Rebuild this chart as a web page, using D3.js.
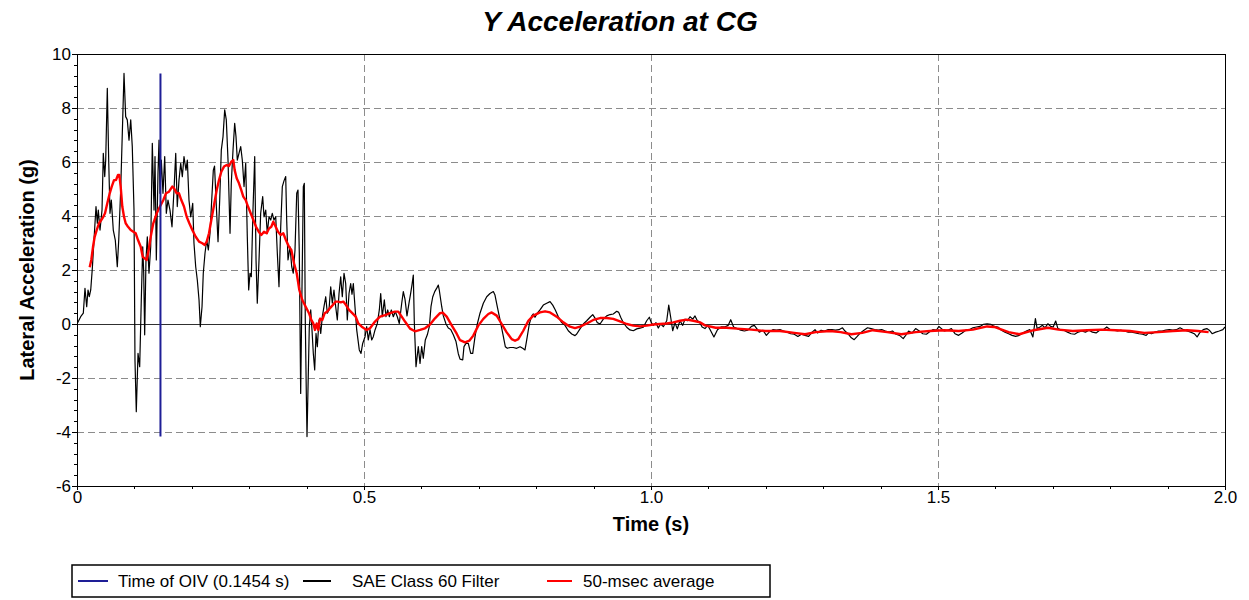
<!DOCTYPE html>
<html>
<head>
<meta charset="utf-8">
<script src="https://cdn.jsdelivr.net/npm/d3@7/dist/d3.min.js"></script>
<style>
  html, body { margin: 0; padding: 0; background: #ffffff; }
  svg { display: block; font-family: "Liberation Sans", Arial, sans-serif; }
</style>
</head>
<body>
<svg id="chart" width="1249" height="600"></svg>
<script>
// ---- Data ---------------------------------------------------------------
const chartTitle = "Y Acceleration at CG";
const xLabel = "Time (s)";
const yLabel = "Lateral Acceleration (g)";

const xTickValues = [0, 0.5, 1.0, 1.5, 2.0];
const xTickLabels = ["0", "0.5", "1.0", "1.5", "2.0"];
const yTickValues = [-6, -4, -2, 0, 2, 4, 6, 8, 10];
const yTickLabels = ["-6", "-4", "-2", "0", "2", "4", "6", "8", "10"];

const seriesNames = ["Time of OIV (0.1454 s)", "SAE Class 60 Filter", "50-msec average"];
const oivTime = 0.1454;

// SAE Class 60 filtered lateral acceleration: time (s), acceleration (g)
const sae60Time = [
  0, 0.0064, 0.0110, 0.0139, 0.0169, 0.0192, 0.0214, 0.0239, 0.0267, 0.0296,
  0.0331, 0.0354, 0.0371, 0.0401, 0.0436, 0.0458, 0.0483, 0.0500, 0.0528, 0.0552,
  0.0575, 0.0598, 0.0632, 0.0667, 0.0702, 0.0727, 0.0761, 0.0796, 0.0819, 0.0848,
  0.0876, 0.0906, 0.0936, 0.0963, 0.0993, 0.1010, 0.1033, 0.1063, 0.1092, 0.1120,
  0.1145, 0.1162, 0.1179, 0.1202, 0.1225, 0.1254, 0.1284, 0.1312, 0.1342, 0.1359,
  0.1382, 0.1411, 0.1429, 0.1446, 0.1469, 0.1498, 0.1528, 0.1556, 0.1585, 0.1620,
  0.1655, 0.1690, 0.1720, 0.1747, 0.1777, 0.1807, 0.1835, 0.1864, 0.1899, 0.1922,
  0.1951, 0.1981, 0.2016, 0.2038, 0.2068, 0.2096, 0.2126, 0.2148, 0.2178, 0.2200,
  0.2230, 0.2260, 0.2288, 0.2317, 0.2347, 0.2375, 0.2396, 0.2425, 0.2457, 0.2486,
  0.2514, 0.2544, 0.2573, 0.2601, 0.2631, 0.2666, 0.2688, 0.2718, 0.2747, 0.2770,
  0.2793, 0.2822, 0.2852, 0.2880, 0.2910, 0.2939, 0.2967, 0.2991, 0.3014, 0.3037,
  0.3066, 0.3096, 0.3119, 0.3141, 0.3171, 0.3200, 0.3235, 0.3258, 0.3288, 0.3315,
  0.3345, 0.3375, 0.3402, 0.3432, 0.3462, 0.3490, 0.3519, 0.3549, 0.3577, 0.3606,
  0.3636, 0.3653, 0.3676, 0.3711, 0.3741, 0.3768, 0.3798, 0.3828, 0.3850, 0.3873,
  0.3897, 0.3920, 0.3943, 0.3960, 0.3977, 0.3995, 0.4007, 0.4025, 0.4047, 0.4072,
  0.4094, 0.4117, 0.4141, 0.4164, 0.4187, 0.4216, 0.4246, 0.4274, 0.4303, 0.4333,
  0.4361, 0.4390, 0.4420, 0.4448, 0.4477, 0.4507, 0.4535, 0.4565, 0.4594, 0.4622,
  0.4652, 0.4681, 0.4709, 0.4739, 0.4768, 0.4791, 0.4814, 0.4843, 0.4873, 0.4918,
  0.4948, 0.4977, 0.5018, 0.5047, 0.5075, 0.5105, 0.5134, 0.5162, 0.5192, 0.5232,
  0.5267, 0.5291, 0.5319, 0.5354, 0.5383, 0.5413, 0.5441, 0.5476, 0.5511, 0.5545,
  0.5580, 0.5615, 0.5657, 0.5685, 0.5714, 0.5749, 0.5784, 0.5810, 0.5836, 0.5859,
  0.5876, 0.5906, 0.5946, 0.5976, 0.6005, 0.6033, 0.6068, 0.6103, 0.6138, 0.6167,
  0.6197, 0.6232, 0.6267, 0.6295, 0.6312, 0.6354, 0.6382, 0.6429, 0.6469, 0.6511,
  0.6556, 0.6603, 0.6643, 0.6673, 0.6720, 0.6742, 0.6777, 0.6817, 0.6859, 0.6894,
  0.6934, 0.6974, 0.7021, 0.7079, 0.7138, 0.7195, 0.7253, 0.7282, 0.7322, 0.7370,
  0.7417, 0.7462, 0.7497, 0.7544, 0.7601, 0.7660, 0.7718, 0.7765, 0.7805, 0.7835,
  0.7880, 0.7922, 0.7950, 0.7979, 0.8019, 0.8066, 0.8124, 0.8183, 0.8241, 0.8288,
  0.8333, 0.8385, 0.8444, 0.8502, 0.8559, 0.8619, 0.8676, 0.8706, 0.8763, 0.8821,
  0.8880, 0.8938, 0.8985, 0.9025, 0.9065, 0.9112, 0.9169, 0.9228, 0.9286, 0.9343,
  0.9403, 0.9438, 0.9472, 0.9518, 0.9577, 0.9634, 0.9692, 0.9751, 0.9809, 0.9866,
  0.9925, 0.9971, 1.0005, 1.0040, 1.0087, 1.0127, 1.0169, 1.0215, 1.0274, 1.0309,
  1.0343, 1.0378, 1.0418, 1.0458, 1.0505, 1.0552, 1.0593, 1.0633, 1.0680, 1.0727,
  1.0767, 1.0807, 1.0847, 1.0890, 1.0940, 1.0990, 1.1035, 1.1096, 1.1158, 1.1221,
  1.1283, 1.1345, 1.1389, 1.1439, 1.1500, 1.1563, 1.1625, 1.1688, 1.1750, 1.1800,
  1.1843, 1.1887, 1.1950, 1.2010, 1.2060, 1.2123, 1.2185, 1.2247, 1.2310, 1.2371,
  1.2434, 1.2496, 1.2559, 1.2620, 1.2683, 1.2746, 1.2807, 1.2857, 1.2900, 1.2963,
  1.3024, 1.3087, 1.3150, 1.3213, 1.3274, 1.3336, 1.3380, 1.3430, 1.3490, 1.3540,
  1.3585, 1.3648, 1.3710, 1.3772, 1.3834, 1.3896, 1.3958, 1.4020, 1.4083, 1.4145,
  1.4207, 1.4270, 1.4330, 1.4394, 1.4437, 1.4488, 1.4550, 1.4610, 1.4674, 1.4736,
  1.4798, 1.4848, 1.4910, 1.4972, 1.5016, 1.5060, 1.5110, 1.5172, 1.5233, 1.5296,
  1.5359, 1.5420, 1.5483, 1.5545, 1.5608, 1.5669, 1.5732, 1.5794, 1.5856, 1.5918,
  1.5980, 1.6043, 1.6105, 1.6167, 1.6230, 1.6290, 1.6354, 1.6416, 1.6479, 1.6540,
  1.6600, 1.6653, 1.6697, 1.6727, 1.6777, 1.6820, 1.6864, 1.6914, 1.6963, 1.7007,
  1.7050, 1.7089, 1.7132, 1.7194, 1.7256, 1.7319, 1.7380, 1.7443, 1.7505, 1.7568,
  1.7630, 1.7690, 1.7754, 1.7816, 1.7878, 1.7940, 1.8003, 1.8065, 1.8127, 1.8190,
  1.8250, 1.8314, 1.8376, 1.8438, 1.8500, 1.8563, 1.8626, 1.8669, 1.8720, 1.8780,
  1.8843, 1.8905, 1.8967, 1.9030, 1.9092, 1.9153, 1.9216, 1.9279, 1.9340, 1.9402,
  1.9465, 1.9514, 1.9558, 1.9620, 1.9683, 1.9726, 1.9776, 1.9838, 1.9900, 1.9963,
  2.0000
];
const sae60Accel = [
  0, 0.27, 0.40, 1.32, 0.64, 1.26, 1.01, 1.26, 2.06, 3.11,
  4.35, 3.73, 4.22, 3.48, 4.22, 6.32, 5.46, 6.07, 8.73, 6.07,
  4.10, 4.59, 3.48, 3.11, 2.12, 3.11, 4.96, 7.56, 9.28, 7.68,
  7.56, 6.81, 7.56, 6.57, 4.22, -1.33, -3.25, -1.09, -1.58, 0.89,
  2.86, 1.90, -0.40, 2.40, 3.23, 1.88, 2.86, 6.69, 4.22, 6.20,
  2.37, 5.58, 6.81, 4.84, 6.07, 4.84, 6.20, 4.10, 4.59, 4.22,
  3.60, 4.96, 6.32, 4.35, 5.33, 5.95, 5.46, 6.20, 5.70, 6.07,
  4.59, 3.97, 4.47, 2.99, 2.12, 1.63, 0.89, -0.10, 0.64, 1.88,
  2.62, 3.11, 2.74, 3.36, 4.59, 5.70, 5.85, 4.47, 3.05, 4.59,
  6.44, 6.94, 7.93, 7.56, 6.07, 3.36, 5.21, 6.44, 7.43, 6.94,
  6.07, 6.32, 6.57, 6.07, 5.09, 5.95, 3.23, 1.26, 1.88, 1.75,
  4.22, 6.20, 2.37, 0.77, 2.37, 4.10, 4.72, 3.97, 4.22, 3.36,
  3.97, 3.85, 4.10, 3.85, 3.97, 2.62, 1.38, 3.60, 5.09, 5.30,
  5.46, 3.85, 2.37, 2.86, 2.12, 1.88, 2.74, 4.84, 4.96, 2.62,
  -2.57, 1.38, 5.09, 5.21, 0.15, -2.57, -4.17, -2.32, -0.10, 0.52,
  -0.22, -1.09, -1.70, -0.35, -0.84, 0.15, -0.35, 0.27, 0.64, 1.01,
  0.40, 0.52, 1.38, 0.77, 1.26, 0.64, 0.15, 1.13, 1.75, 1.01,
  1.88, 1.50, 0.15, 1.13, 1.50, 1.10, 1.50, 0.64, -0.22, -0.96,
  -1.09, -0.72, -0.47, -0.10, -0.59, -0.22, -0.59, -0.47, -0.22, 0.02,
  0.52, 1.13, 0.27, 0.89, 0.27, 0.52, 0.27, 0.52, 0.27, 0.46,
  0.27, 0.02, 0.77, 1.20, 0.92, 0.30, 0.77, 1.10, 1.45, 1.81,
  0.10, -1.58, -0.84, -1.46, -0.84, -1.27, -0.59, -0.40, -0.10, 0.64,
  1.00, 1.20, 1.33, 1.44, 1.25, 0.64, 0.30, 0.00, -0.15, -0.20,
  -0.40, -0.65, -1.10, -1.30, -1.33, -0.84, -0.72, -0.72, -1.09, -1.09,
  -0.47, 0.00, 0.40, 0.77, 1.01, 1.13, 1.20, 1.07, 0.64, 0.15,
  -0.35, -0.84, -0.90, -0.87, -0.87, -0.90, -0.84, -0.90, -0.96, -0.59,
  0.00, 0.30, 0.37, 0.25, 0.40, 0.52, 0.70, 0.77, 0.83, 0.70,
  0.52, 0.27, 0.05, -0.05, -0.25, -0.37, -0.43, -0.37, -0.18, 0.00,
  0.12, 0.25, 0.35, 0.22, 0.05, 0.00, 0.18, 0.30, 0.35, 0.37,
  0.47, 0.43, 0.25, 0.05, -0.12, -0.22, -0.25, -0.18, -0.15, -0.12,
  0.12, 0.25, 0.05, -0.05, 0.05, -0.15, 0.00, -0.10, 0.12, 0.70,
  0.25, -0.25, 0.05, -0.18, 0.12, -0.05, 0.18, 0.12, 0.27, 0.18,
  0.30, 0.12, 0.07, -0.11, -0.17, -0.05, -0.23, -0.48, -0.21, -0.11,
  -0.11, -0.05, 0.16, -0.11, -0.17, -0.23, -0.26, -0.23, -0.09, -0.05,
  -0.17, -0.30, -0.23, -0.42, -0.30, -0.21, -0.23, -0.21, -0.26, -0.30,
  -0.36, -0.38, -0.46, -0.38, -0.42, -0.46, -0.30, -0.21, -0.33, -0.23,
  -0.26, -0.21, -0.21, -0.23, -0.21, -0.14, -0.26, -0.36, -0.51, -0.58,
  -0.48, -0.33, -0.23, -0.14, -0.17, -0.21, -0.23, -0.21, -0.26, -0.30,
  -0.26, -0.38, -0.42, -0.54, -0.42, -0.26, -0.33, -0.17, -0.26, -0.36,
  -0.38, -0.30, -0.21, -0.23, -0.09, -0.17, -0.26, -0.23, -0.17, -0.36,
  -0.42, -0.33, -0.23, -0.21, -0.14, -0.11, -0.09, -0.01, 0.01, -0.01,
  -0.09, -0.11, -0.23, -0.30, -0.36, -0.42, -0.46, -0.42, -0.33, -0.26,
  -0.21, -0.48, 0.20, -0.17, -0.11, -0.05, -0.14, 0.01, -0.09, -0.11,
  0.11, -0.17, -0.21, -0.23, -0.30, -0.36, -0.38, -0.30, -0.26, -0.30,
  -0.23, -0.30, -0.33, -0.23, -0.21, -0.11, -0.21, -0.23, -0.26, -0.23,
  -0.26, -0.30, -0.30, -0.33, -0.36, -0.38, -0.42, -0.33, -0.36, -0.30,
  -0.26, -0.26, -0.23, -0.21, -0.23, -0.21, -0.14, -0.21, -0.26, -0.30,
  -0.36, -0.48, -0.33, -0.21, -0.17, -0.23, -0.36, -0.30, -0.26, -0.21,
  -0.11
];

// 50-msec moving average: time (s), acceleration (g)
const avgTime = [
  0.0221, 0.0249, 0.0279, 0.0308, 0.0343, 0.0383, 0.0423, 0.0458, 0.0488, 0.0528,
  0.0570, 0.0605, 0.0645, 0.0679, 0.0714, 0.0737, 0.0761, 0.0789, 0.0819, 0.0848,
  0.0889, 0.0936, 0.0981, 0.1023, 0.1063, 0.1110, 0.1145, 0.1179, 0.1214, 0.1249,
  0.1284, 0.1329, 0.1389, 0.1446, 0.1504, 0.1551, 0.1603, 0.1660, 0.1690, 0.1737,
  0.1777, 0.1817, 0.1864, 0.1911, 0.1957, 0.2009, 0.2068, 0.2126, 0.2183, 0.2225,
  0.2260, 0.2300, 0.2340, 0.2387, 0.2434, 0.2474, 0.2514, 0.2561, 0.2608, 0.2648,
  0.2688, 0.2723, 0.2747, 0.2782, 0.2822, 0.2862, 0.2897, 0.2939, 0.2979, 0.3026,
  0.3072, 0.3119, 0.3166, 0.3211, 0.3258, 0.3305, 0.3345, 0.3385, 0.3420, 0.3462,
  0.3502, 0.3549, 0.3594, 0.3641, 0.3693, 0.3734, 0.3781, 0.3828, 0.3873, 0.3925,
  0.3984, 0.4042, 0.4082, 0.4117, 0.4146, 0.4176, 0.4204, 0.4234, 0.4274, 0.4315,
  0.4361, 0.4408, 0.4455, 0.4507, 0.4547, 0.4594, 0.4640, 0.4687, 0.4739, 0.4796,
  0.4856, 0.4901, 0.4960, 0.5047, 0.5105, 0.5192, 0.5279, 0.5366, 0.5453, 0.5540,
  0.5598, 0.5657, 0.5714, 0.5802, 0.5889, 0.5976, 0.6063, 0.6150, 0.6237, 0.6324,
  0.6371, 0.6441, 0.6528, 0.6615, 0.6673, 0.6760, 0.6835, 0.6904, 0.6991, 0.7079,
  0.7166, 0.7225, 0.7312, 0.7399, 0.7486, 0.7573, 0.7631, 0.7688, 0.7775, 0.7863,
  0.7950, 0.8066, 0.8154, 0.8241, 0.8357, 0.8472, 0.8589, 0.8676, 0.8763, 0.8880,
  0.8995, 0.9112, 0.9228, 0.9343, 0.9460, 0.9577, 0.9692, 0.9809, 0.9925, 1.0040,
  1.0157, 1.0274, 1.0389, 1.0505, 1.0622, 1.0737, 1.0854, 1.0940, 1.1127, 1.1314,
  1.1500, 1.1750, 1.1998, 1.2247, 1.2496, 1.2683, 1.2870, 1.3120, 1.3305, 1.3490,
  1.3680, 1.3865, 1.4114, 1.4363, 1.4610, 1.4860, 1.5110, 1.5359, 1.5608, 1.5856,
  1.5980, 1.6230, 1.6416, 1.6665, 1.6914, 1.7100, 1.7350, 1.7600, 1.7850, 1.8096,
  1.8345, 1.8594, 1.8843, 1.9092, 1.9340, 1.9527, 1.9714
];
const avgAccel = [
  2.10, 2.37, 2.86, 3.23, 3.48, 3.73, 3.85, 3.97, 4.10, 4.47,
  4.84, 5.09, 5.33, 5.33, 5.52, 5.52, 5.09, 4.35, 3.97, 3.73,
  3.60, 3.48, 3.42, 3.36, 3.11, 2.86, 2.49, 2.43, 2.37, 2.74,
  3.23, 3.73, 4.10, 4.35, 4.59, 4.84, 4.90, 5.09, 5.03, 4.84,
  4.84, 4.59, 4.35, 3.97, 3.73, 3.48, 3.23, 3.05, 2.99, 2.93,
  3.05, 3.36, 3.85, 4.40, 4.96, 5.33, 5.64, 5.83, 5.89, 5.85,
  6.01, 6.07, 5.70, 5.40, 5.21, 4.96, 4.72, 4.59, 4.35, 4.10,
  3.85, 3.60, 3.42, 3.30, 3.42, 3.36, 3.54, 3.60, 3.79, 3.60,
  3.42, 3.30, 3.36, 3.10, 2.86, 2.74, 2.25, 1.88, 1.26, 0.89,
  0.64, 0.40, 0.15, 0.02, -0.22, 0.02, -0.22, 0.20, 0.15, 0.40,
  0.46, 0.59, 0.70, 0.83, 0.83, 0.80, 0.83, 0.70, 0.52, 0.40,
  0.27, 0.02, -0.10, -0.22, -0.16, 0.09, 0.27, 0.33, 0.40, 0.46,
  0.46, 0.27, 0.09, -0.17, -0.27, -0.22, -0.16, -0.02, 0.21, 0.40,
  0.42, 0.27, -0.05, -0.36, -0.60, -0.68, -0.62, -0.43, -0.06, 0.19,
  0.37, 0.43, 0.31, 0.00, -0.31, -0.56, -0.62, -0.56, -0.25, 0.12,
  0.31, 0.43, 0.47, 0.43, 0.27, 0.06, -0.10, -0.15, -0.10, 0.02,
  0.15, 0.22, 0.22, 0.19, 0.10, 0.00, -0.06, -0.09, -0.06, -0.02,
  0.00, 0.02, 0.06, 0.12, 0.16, 0.12, 0.06, -0.05, -0.14, -0.14,
  -0.17, -0.21, -0.26, -0.26, -0.33, -0.38, -0.30, -0.26, -0.30, -0.38,
  -0.33, -0.23, -0.30, -0.38, -0.30, -0.26, -0.23, -0.26, -0.21, -0.09,
  -0.11, -0.30, -0.38, -0.23, -0.14, -0.21, -0.26, -0.23, -0.21, -0.23,
  -0.26, -0.33, -0.30, -0.26, -0.23, -0.26, -0.30
];

// ---- Layout -------------------------------------------------------------
const plot = { left: 77, top: 54, right: 1225, bottom: 486 };

const svg = d3.select("#chart");

const x = d3.scaleLinear().domain([0, 2]).range([plot.left, plot.right]);
const y = d3.scaleLinear().domain([-6, 10]).range([plot.bottom, plot.top]);

const gridColor = "#8c8c8c";

// Horizontal dashed gridlines (interior major ticks except zero)
svg.append("g")
  .selectAll("line")
  .data(yTickValues.filter(v => v !== 0 && v !== -6 && v !== 10))
  .join("line")
  .attr("x1", plot.left).attr("x2", plot.right)
  .attr("y1", d => y(d)).attr("y2", d => y(d))
  .attr("stroke", gridColor).attr("stroke-width", 1)
  .attr("stroke-dasharray", "7,4")
  .attr("shape-rendering", "crispEdges");

// Vertical dashed gridlines
svg.append("g")
  .selectAll("line")
  .data(xTickValues.filter(v => v > 0 && v < 2))
  .join("line")
  .attr("x1", d => x(d)).attr("x2", d => x(d))
  .attr("y1", plot.top).attr("y2", plot.bottom)
  .attr("stroke", gridColor).attr("stroke-width", 1)
  .attr("stroke-dasharray", "7,4")
  .attr("shape-rendering", "crispEdges");

// Zero reference line
svg.append("line")
  .attr("x1", plot.left).attr("x2", plot.right)
  .attr("y1", y(0)).attr("y2", y(0))
  .attr("stroke", "#303030").attr("stroke-width", 1)
  .attr("shape-rendering", "crispEdges");

// ---- Series -------------------------------------------------------------
svg.append("clipPath").attr("id", "plot-clip")
  .append("rect")
  .attr("x", plot.left).attr("y", plot.top)
  .attr("width", plot.right - plot.left).attr("height", plot.bottom - plot.top);

const line = d3.line().x(d => x(d[0])).y(d => y(d[1]));

const sae60 = sae60Time.map((t, i) => [t, sae60Accel[i]]);
const avg50 = avgTime.map((t, i) => [t, avgAccel[i]]);

const series = svg.append("g").attr("clip-path", "url(#plot-clip)");

series.append("path")
  .datum(sae60)
  .attr("d", line)
  .attr("fill", "none")
  .attr("stroke", "#000000")
  .attr("stroke-width", 1.2)
  .attr("stroke-linejoin", "round");

series.append("path")
  .datum(avg50)
  .attr("d", line)
  .attr("fill", "none")
  .attr("stroke", "#ff0000")
  .attr("stroke-width", 2.4)
  .attr("stroke-linejoin", "round");

// OIV time marker spans the filtered signal's range
const sigMin = d3.min(sae60Accel);
const sigMax = d3.max(sae60Accel);
series.append("line")
  .attr("x1", x(oivTime)).attr("x2", x(oivTime))
  .attr("y1", y(sigMax)).attr("y2", y(sigMin))
  .attr("stroke", "#1e1e96").attr("stroke-width", 2);

// ---- Frame and axes -----------------------------------------------------
svg.append("rect")
  .attr("x", plot.left).attr("y", plot.top)
  .attr("width", plot.right - plot.left).attr("height", plot.bottom - plot.top)
  .attr("fill", "none").attr("stroke", "#000000").attr("stroke-width", 1)
  .attr("shape-rendering", "crispEdges");

const tickFont = '"Liberation Sans", Arial, sans-serif';

// Y axis: major labelled ticks every 2 g, minor every 0.4 g
const yMinor = d3.axisLeft(y)
  .tickValues(d3.range(-6, 10.001, 0.4).map(v => +v.toFixed(1)))
  .tickSize(3)
  .tickFormat("");
svg.append("g")
  .attr("transform", `translate(${plot.left},0)`)
  .call(yMinor)
  .call(g => g.select(".domain").remove())
  .call(g => g.selectAll("line").attr("stroke", "#000").attr("shape-rendering", "crispEdges"));

const yMajor = d3.axisLeft(y)
  .tickValues(yTickValues)
  .tickSize(5)
  .tickPadding(1)
  .tickFormat((d, i) => yTickLabels[i]);
svg.append("g")
  .attr("transform", `translate(${plot.left},0)`)
  .call(yMajor)
  .call(g => g.select(".domain").remove())
  .call(g => g.selectAll("line").attr("stroke", "#000").attr("shape-rendering", "crispEdges"))
  .call(g => g.selectAll("text")
    .attr("fill", "#000")
    .style("font-family", tickFont)
    .style("font-size", "17px"));

// X axis: minor ticks every 0.1 s, labels every 0.5 s
const xMinor = d3.axisBottom(x)
  .tickValues(d3.range(0, 2.001, 0.1).map(v => +v.toFixed(1)))
  .tickSize(3)
  .tickFormat("");
svg.append("g")
  .attr("transform", `translate(0,${plot.bottom})`)
  .call(xMinor)
  .call(g => g.select(".domain").remove())
  .call(g => g.selectAll("line").attr("stroke", "#000").attr("shape-rendering", "crispEdges"));

const xMajor = d3.axisBottom(x)
  .tickValues(xTickValues)
  .tickSize(4)
  .tickPadding(1)
  .tickFormat((d, i) => xTickLabels[i]);
svg.append("g")
  .attr("transform", `translate(0,${plot.bottom})`)
  .call(xMajor)
  .call(g => g.select(".domain").remove())
  .call(g => g.selectAll("line").attr("stroke", "#000").attr("shape-rendering", "crispEdges"))
  .call(g => g.selectAll("text")
    .attr("fill", "#000")
    .style("font-family", tickFont)
    .style("font-size", "17px"));

// ---- Titles -------------------------------------------------------------
svg.append("text")
  .attr("x", 620).attr("y", 31)
  .attr("text-anchor", "middle")
  .style("font-size", "28px")
  .style("font-weight", "bold")
  .style("font-style", "italic")
  .text(chartTitle);

svg.append("text")
  .attr("x", (plot.left + plot.right) / 2).attr("y", 531)
  .attr("text-anchor", "middle")
  .style("font-size", "20px")
  .style("font-weight", "bold")
  .text(xLabel);

svg.append("text")
  .attr("transform", `translate(34,${(plot.top + plot.bottom) / 2}) rotate(-90)`)
  .attr("text-anchor", "middle")
  .style("font-size", "20px")
  .style("font-weight", "bold")
  .text(yLabel);

// ---- Legend -------------------------------------------------------------
const legend = svg.append("g");
legend.append("rect")
  .attr("x", 72).attr("y", 565).attr("width", 698).attr("height", 32)
  .attr("fill", "#ffffff").attr("stroke", "#000000").attr("stroke-width", 1.5);

const legendItems = [
  { name: seriesNames[0], color: "#1e1e96", x0: 78, x1: 108, tx: 118 },
  { name: seriesNames[1], color: "#000000", x0: 303, x1: 331, tx: 352 },
  { name: seriesNames[2], color: "#ff0000", x0: 547, x1: 572, tx: 583 }
];
const li = legend.selectAll("g.item").data(legendItems).join("g").attr("class", "item");
li.append("line")
  .attr("x1", d => d.x0).attr("x2", d => d.x1)
  .attr("y1", 581).attr("y2", 581)
  .attr("stroke", d => d.color).attr("stroke-width", 2);
li.append("text")
  .attr("x", d => d.tx).attr("y", 587)
  .style("font-size", "17px")
  .text(d => d.name);
</script>
</body>
</html>
